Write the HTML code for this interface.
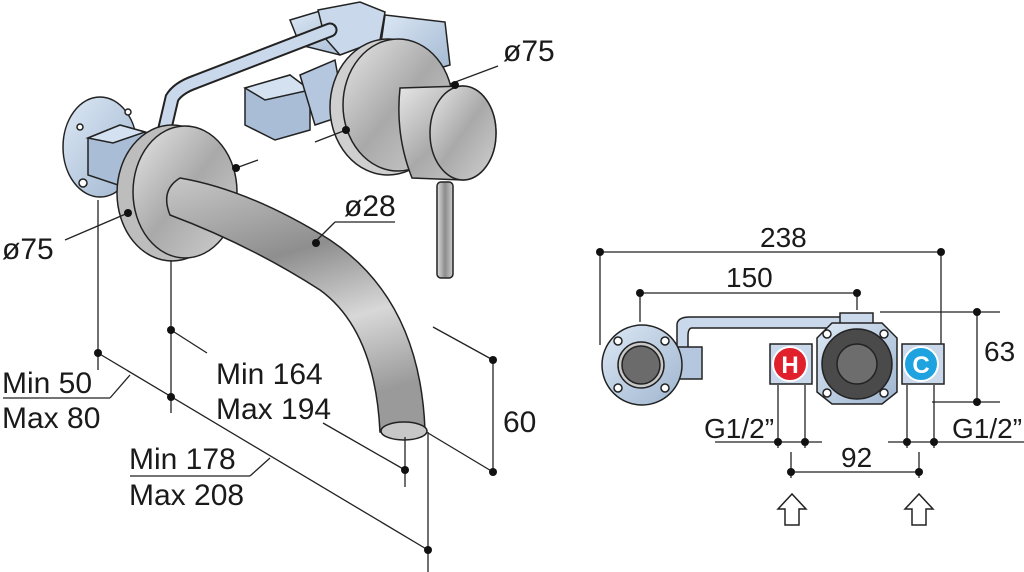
<!DOCTYPE html>
<html><head><meta charset="utf-8"><style>
html,body{margin:0;padding:0;background:#fff;}
svg{display:block;}
text{font-family:"Liberation Sans",Arial,sans-serif;fill:#1a1a1a;}
</style></head><body>
<svg width="1024" height="572" viewBox="0 0 1024 572" xmlns="http://www.w3.org/2000/svg">
<defs>
<linearGradient id="blue" x1="0" y1="0" x2="1" y2="1"><stop offset="0" stop-color="#dce8f5"/><stop offset="1" stop-color="#9fb5cf"/></linearGradient>
<linearGradient id="chrome" x1="0" y1="0" x2="1" y2="1"><stop offset="0" stop-color="#e6e6e6"/><stop offset="0.5" stop-color="#a9a9a9"/><stop offset="1" stop-color="#d0d0d0"/></linearGradient>
<linearGradient id="spout" x1="0" y1="0" x2="0.3" y2="1"><stop offset="0" stop-color="#c8c8c8"/><stop offset="0.4" stop-color="#8e8e8e"/><stop offset="0.7" stop-color="#d8d8d8"/><stop offset="1" stop-color="#9a9a9a"/></linearGradient>
<linearGradient id="cyl" x1="0" y1="0" x2="1" y2="0"><stop offset="0" stop-color="#ddd"/><stop offset="0.5" stop-color="#8c8c8c"/><stop offset="1" stop-color="#ccc"/></linearGradient>
</defs>
<g stroke="#222" stroke-width="1.5">
<polygon points="290,20 330,8 370,12 380,40 340,55 300,45" fill="url(#blue)"/>
<polygon points="318,10 360,2 385,12 380,40 340,55 325,38" fill="#c9d8ea"/>
<polygon points="385,15 445,22 450,65 400,80 380,50" fill="url(#blue)"/>
<polygon points="245,88 290,75 310,95 310,130 275,140 245,125" fill="#a9bdd6"/>
<polygon points="245,88 290,75 310,90 265,100" fill="#d4e1f0"/>
<polygon points="300,75 335,60 345,115 315,125" fill="#b5c7de"/>
<path d="M165,128 L172,98 Q178,88 195,82 L330,30" fill="none" stroke="#222" stroke-width="15" stroke-linecap="round"/>
<path d="M165,128 L172,98 Q178,88 195,82 L330,30" fill="none" stroke="#c9d8ea" stroke-width="11" stroke-linecap="round"/>
<ellipse cx="388" cy="107" rx="58" ry="68" fill="#cfcfcf"/>
<ellipse cx="398" cy="105" rx="55" ry="66" fill="url(#chrome)"/>
<path d="M400,88 L463,86 A33,47 0 0 1 463,180 L412,178 Q395,135 400,88 Z" fill="url(#chrome)"/>
<ellipse cx="463" cy="133" rx="33" ry="47" fill="url(#chrome)"/>
<rect x="437" y="182" width="16" height="96" rx="4" fill="url(#cyl)"/>
<ellipse cx="100" cy="147" rx="37" ry="50" fill="url(#blue)"/>
<circle cx="83" cy="183" r="4" fill="#fff"/><circle cx="80" cy="127" r="3" fill="#fff"/><circle cx="128" cy="112" r="3" fill="#fff"/>
<polygon points="88,138 120,125 145,132 145,178 118,185 88,175" fill="#a9bdd6"/>
<polygon points="88,138 120,125 145,132 113,143" fill="#d4e1f0"/>
<ellipse cx="172" cy="193" rx="55" ry="68" fill="#bdbdbd"/>
<ellipse cx="185" cy="192" rx="52" ry="66" fill="url(#chrome)"/>
<path d="M180,178 Q250,190 330,240 Q420,300 425,430 L380,432 Q375,330 320,290 Q250,245 170,215 Q160,190 180,178 Z" fill="url(#spout)"/>
<ellipse cx="404" cy="431" rx="23" ry="9" fill="#c7c7c7"/>
</g>
<g stroke="#222" stroke-width="1.3" fill="none">
<line x1="450" y1="84" x2="498" y2="66"/><line x1="315" y1="142" x2="346" y2="130"/>
<line x1="236" y1="168" x2="258" y2="160"/>
<line x1="65" y1="240" x2="128" y2="213"/>
<line x1="314" y1="243" x2="335" y2="222"/><line x1="335" y1="222" x2="395" y2="222"/>
<line x1="98" y1="200" x2="98" y2="370"/><line x1="171" y1="260" x2="171" y2="413"/>
<line x1="98" y1="353" x2="428" y2="550"/><line x1="428" y1="432" x2="428" y2="572"/>
<line x1="171" y1="330" x2="207" y2="353"/>
<line x1="3" y1="398" x2="110" y2="398"/><line x1="110" y1="398" x2="130" y2="375"/>
<line x1="130" y1="476" x2="250" y2="476"/><line x1="250" y1="476" x2="270" y2="458"/>
<line x1="323" y1="423" x2="405" y2="470"/><line x1="405" y1="437" x2="405" y2="487"/>
<line x1="493" y1="360" x2="493" y2="472"/><line x1="433" y1="327" x2="493" y2="360"/><line x1="428" y1="433" x2="493" y2="472"/>
</g>
<g fill="#111">
<circle cx="455" cy="85" r="4"/><circle cx="346" cy="130" r="4"/><circle cx="236" cy="168" r="4"/><circle cx="128" cy="213" r="4"/><circle cx="316" cy="243" r="4"/>
<circle cx="98" cy="353" r="4"/><circle cx="171" cy="330" r="4"/><circle cx="171" cy="397" r="4"/><circle cx="428" cy="550" r="4"/><circle cx="405" cy="470" r="4"/><circle cx="493" cy="360" r="4"/><circle cx="493" cy="472" r="4"/>
</g>
<g font-size="30">
<text x="503" y="61">ø75</text><text x="2" y="259">ø75</text><text x="344" y="216">ø28</text>
<text x="2" y="393">Min 50</text><text x="2" y="428">Max 80</text>
<text x="216" y="384">Min 164</text><text x="216" y="419">Max 194</text>
<text x="129" y="469">Min 178</text><text x="129" y="505">Max 208</text>
<text x="503" y="432">60</text>
</g>
<g stroke="#222" stroke-width="1.3" fill="none">
<line x1="600" y1="252" x2="942" y2="252"/><line x1="600" y1="252" x2="600" y2="345"/><line x1="941" y1="252" x2="941" y2="345"/>
<line x1="638" y1="293" x2="857" y2="293"/><line x1="640" y1="293" x2="640" y2="322"/><line x1="857" y1="293" x2="857" y2="310"/>
<line x1="880" y1="312" x2="1000" y2="312"/><line x1="932" y1="402" x2="1000" y2="402"/><line x1="977" y1="312" x2="977" y2="402"/>
<line x1="778" y1="385" x2="778" y2="448"/><line x1="805" y1="385" x2="805" y2="448"/><line x1="715" y1="442" x2="822" y2="442"/>
<line x1="907" y1="385" x2="907" y2="448"/><line x1="934" y1="385" x2="934" y2="448"/><line x1="888" y1="442" x2="1024" y2="442"/>
<line x1="791" y1="452" x2="791" y2="478"/><line x1="919" y1="452" x2="919" y2="478"/><line x1="791" y1="472" x2="919" y2="472"/>
</g>
<g fill="#111">
<circle cx="600" cy="252" r="4"/><circle cx="941" cy="252" r="4"/><circle cx="640" cy="293" r="4"/><circle cx="857" cy="293" r="4"/>
<circle cx="977" cy="312" r="4"/><circle cx="977" cy="402" r="4"/>
<circle cx="778" cy="442" r="4"/><circle cx="805" cy="442" r="4"/><circle cx="907" cy="442" r="4"/><circle cx="934" cy="442" r="4"/>
<circle cx="791" cy="472" r="4"/><circle cx="919" cy="472" r="4"/>
</g>
<g stroke="#222" stroke-width="1.5">
<path d="M677,355 L677,325 Q677,317 690,317 L842,317 L842,328 L692,328 Q688,328 688,336 L688,355 Z" fill="#c9d8ea"/>
<rect x="672" y="347" width="30" height="32" fill="#b5c7de"/>
<circle cx="642" cy="365" r="40" fill="url(#blue)"/>
<circle cx="641" cy="365" r="23" fill="#c8c8c8"/><circle cx="641" cy="365" r="19" fill="#6b6b6b"/>
<circle cx="618" cy="341" r="4" fill="#fff"/><circle cx="665" cy="341" r="4" fill="#fff"/><circle cx="618" cy="388" r="4" fill="#fff"/><circle cx="665" cy="388" r="4" fill="#fff"/>
<rect x="840" y="313" width="33" height="12" fill="#c9d8ea"/>
<rect x="770" y="344" width="42" height="40" fill="#c9d8ea"/>
<rect x="902" y="344" width="42" height="40" fill="#c9d8ea"/>
<polygon points="832,323 882,323 897,338 897,392 882,404 832,404 817,392 817,338" fill="url(#blue)"/>
<circle cx="857" cy="364" r="35" fill="#4a4a4a"/><circle cx="857" cy="364" r="20" fill="#6d6d6d"/>
<circle cx="827" cy="334" r="4" fill="#fff"/><circle cx="884" cy="334" r="4" fill="#fff"/><circle cx="827" cy="393" r="4" fill="#fff"/><circle cx="884" cy="393" r="4" fill="#fff"/>
<circle cx="790" cy="364" r="17" fill="#e0202a" stroke="#fff" stroke-width="2"/>
<circle cx="921" cy="364" r="17" fill="#1ea3e0" stroke="#fff" stroke-width="2"/>
<path d="M785,525 L785,509 L778,509 L792,494 L806,509 L799,509 L799,525 Z" fill="#fff"/>
<path d="M912,525 L912,509 L905,509 L919,494 L933,509 L926,509 L926,525 Z" fill="#fff"/>
</g>
<text x="790" y="373" font-size="24" font-weight="bold" text-anchor="middle" style="fill:#fff">H</text>
<text x="921" y="373" font-size="24" font-weight="bold" text-anchor="middle" style="fill:#fff">C</text>
<g font-size="28">
<text x="760" y="247">238</text><text x="726" y="287">150</text><text x="984" y="361">63</text>
<text x="704" y="438">G1/2”</text><text x="952" y="438">G1/2”</text><text x="841" y="467">92</text>
</g>
</svg>
</body></html>
